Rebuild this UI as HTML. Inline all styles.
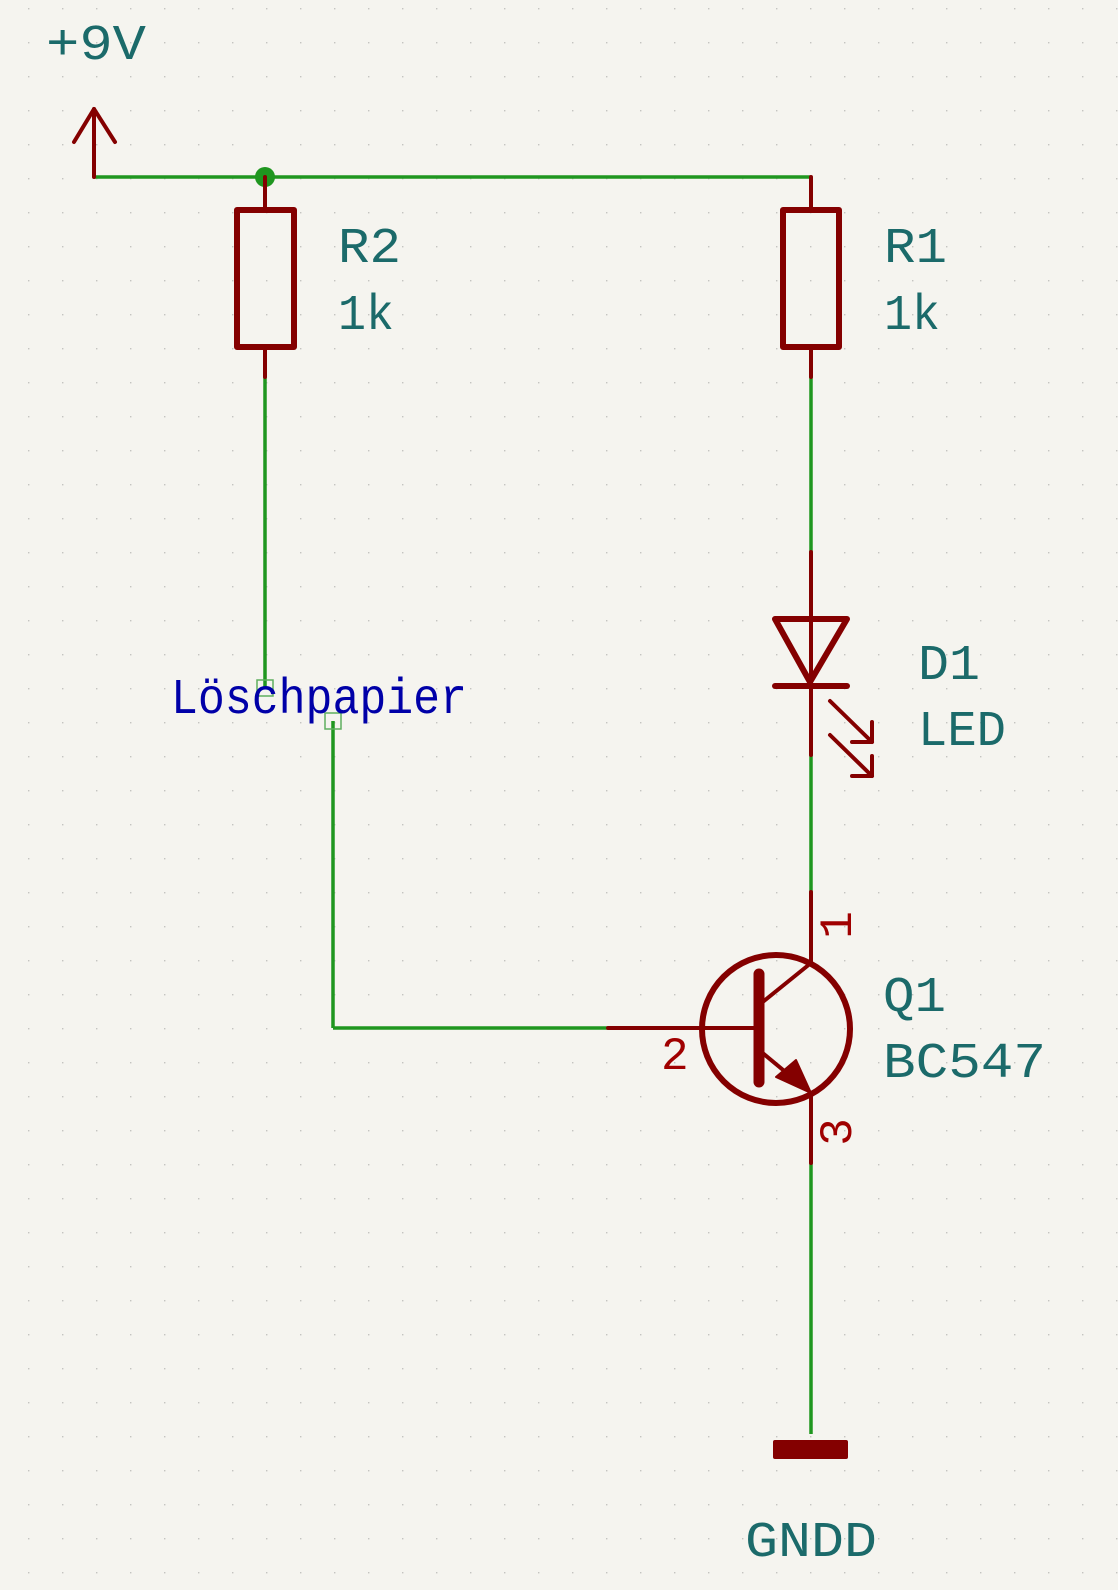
<!DOCTYPE html>
<html><head><meta charset="utf-8"><style>
html,body{margin:0;padding:0;background:#f5f4ef;}
svg{display:block}
text{font-family:"Liberation Mono","DejaVu Sans Mono",monospace;}
</style></head><body>
<svg width="1118" height="1590" viewBox="0 0 1118 1590" xmlns="http://www.w3.org/2000/svg">
<defs>
<pattern id="g" x="28" y="8" width="34" height="34" patternUnits="userSpaceOnUse">
<rect x="0" y="0" width="1.4" height="1.4" fill="#c4c4c0"/>
</pattern>
</defs>
<rect width="1118" height="1590" fill="#f5f4ef"/>
<rect width="1118" height="1590" fill="url(#g)"/>

<g stroke="#1f961f" stroke-width="3.5" fill="none">
<line x1="94" y1="177" x2="811" y2="177"/>
<line x1="265" y1="377" x2="265" y2="688"/>
<line x1="333" y1="721" x2="333" y2="1028"/>
<line x1="333" y1="1028" x2="608" y2="1028"/>
<line x1="811" y1="377" x2="811" y2="552"/>
<line x1="811" y1="755" x2="811" y2="892"/>
<line x1="811" y1="1163" x2="811" y2="1434"/>
</g>
<circle cx="265" cy="177" r="10" fill="#1f961f"/>
<g stroke="#5fae5f" stroke-width="1.5" fill="none">
<rect x="257" y="680" width="16" height="16"/>
<rect x="325" y="713" width="16" height="16"/>
</g>

<g stroke="#840000" stroke-width="4" fill="none" stroke-linecap="round" stroke-linejoin="round">
<line x1="94" y1="109" x2="94" y2="177"/>
<polyline points="74,142 94,109 115,142"/>
<line x1="265" y1="177" x2="265" y2="210"/>
<line x1="265" y1="347" x2="265" y2="377"/>
<line x1="811" y1="177" x2="811" y2="210"/>
<line x1="811" y1="347" x2="811" y2="377"/>
<line x1="811" y1="552" x2="811" y2="755"/>
<line x1="811" y1="892" x2="811" y2="963"/>
<line x1="811" y1="1093" x2="811" y2="1163"/>
<line x1="608" y1="1028" x2="759" y2="1028"/>
<line x1="759" y1="1005" x2="811" y2="963"/>
<line x1="759" y1="1050" x2="800" y2="1084"/>
<line x1="830" y1="701" x2="872" y2="742"/>
<polyline points="872,722 872,742 852,742"/>
<line x1="830" y1="735" x2="872" y2="776"/>
<polyline points="872,756 872,776 852,776"/>
</g>
<g stroke="#840000" stroke-width="6" fill="none" stroke-linejoin="round" stroke-linecap="round">
<rect x="237" y="210" width="57" height="137"/>
<rect x="783" y="210" width="56" height="137"/>
<polygon points="775,619 847,619 810,682"/>
<line x1="775" y1="686" x2="847" y2="686"/>
<circle cx="776" cy="1029" r="74"/>
</g>
<line x1="759" y1="974" x2="759" y2="1082" stroke="#840000" stroke-width="11" stroke-linecap="round"/>
<polygon points="811,1093 776,1077 796,1060" fill="#840000" stroke="#840000" stroke-width="2" stroke-linejoin="round"/>
<rect x="773" y="1440" width="75" height="19" rx="2" fill="#840000"/>

<g fill="#1b6a6a" font-size="50">
<text x="46" y="59" textLength="100" lengthAdjust="spacingAndGlyphs">+9V</text>
<text x="338" y="262" textLength="63" lengthAdjust="spacingAndGlyphs">R2</text>
<text x="338" y="329" textLength="56" lengthAdjust="spacingAndGlyphs">1k</text>
<text x="884" y="262" textLength="63" lengthAdjust="spacingAndGlyphs">R1</text>
<text x="884" y="329" textLength="56" lengthAdjust="spacingAndGlyphs">1k</text>
<text x="918" y="679" textLength="62" lengthAdjust="spacingAndGlyphs">D1</text>
<text x="918" y="745" textLength="88" lengthAdjust="spacingAndGlyphs">LED</text>
<text x="883" y="1011" textLength="63" lengthAdjust="spacingAndGlyphs">Q1</text>
<text x="883" y="1077" textLength="163" lengthAdjust="spacingAndGlyphs">BC547</text>
<text x="745" y="1556" textLength="132" lengthAdjust="spacingAndGlyphs">GNDD</text>
</g>
<text x="171" y="713" fill="#0000a8" font-size="50" textLength="296" lengthAdjust="spacingAndGlyphs">Löschpapier</text>
<g fill="#a00000" font-size="46">
<text x="661" y="1069">2</text>
<text transform="translate(851,925) rotate(-90)" text-anchor="middle">1</text>
<text transform="translate(851,1132) rotate(-90)" text-anchor="middle">3</text>
</g>
</svg>
</body></html>
